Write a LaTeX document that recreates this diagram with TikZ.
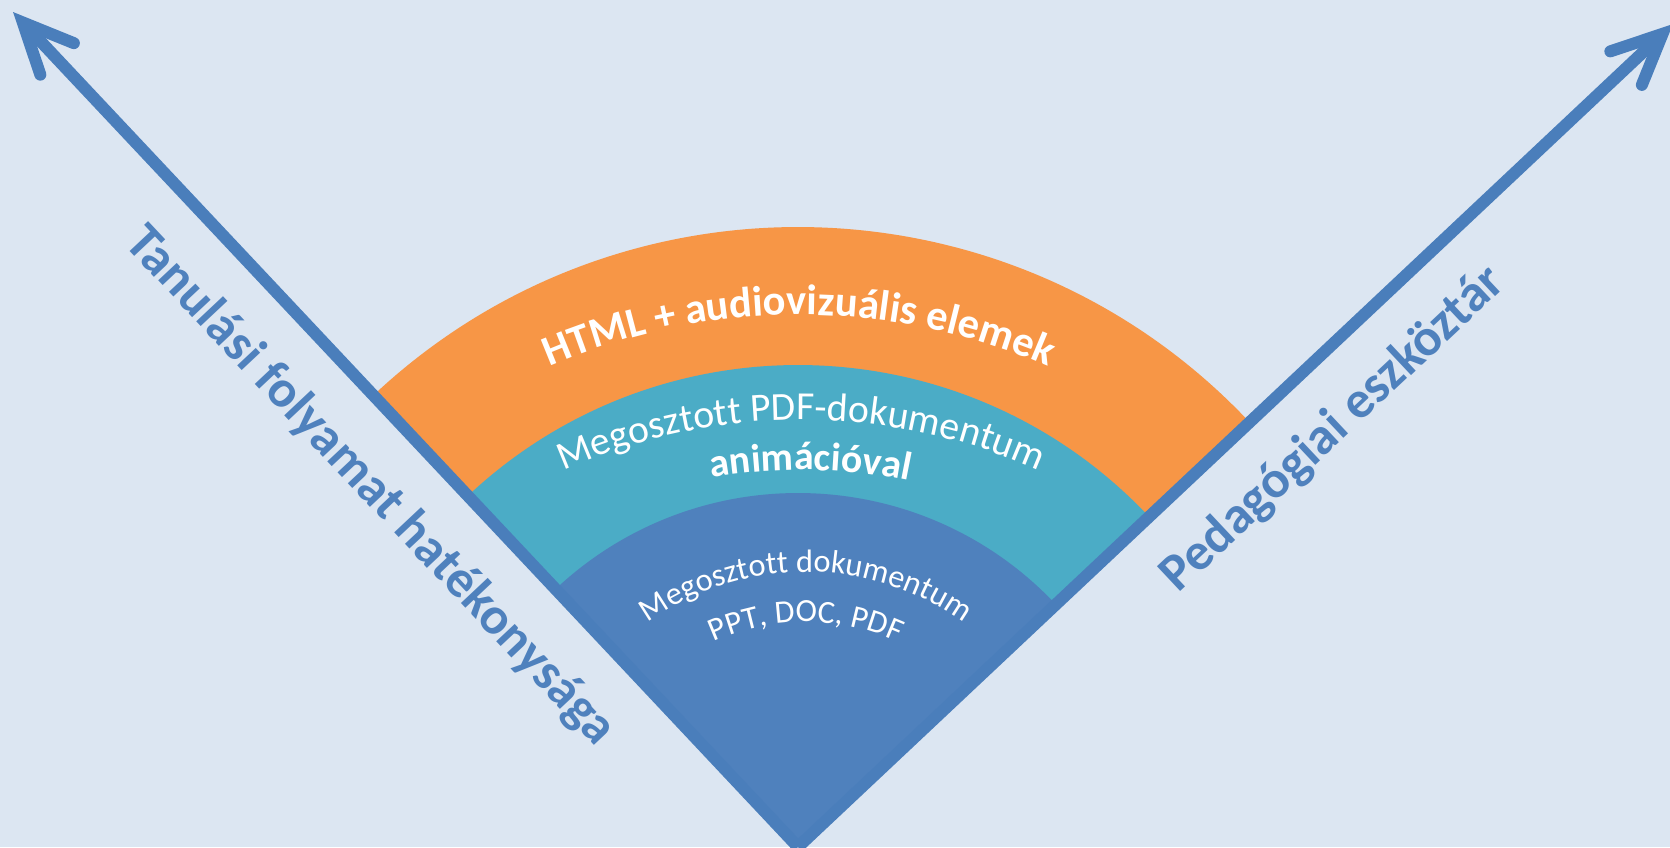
\documentclass[tikz,border=0pt]{standalone}
\usepackage{fontspec}
\setmainfont{Carlito}
\usetikzlibrary{
	arrows.meta,
	calc,
	decorations.text
}

\definecolor{hatter}{HTML}{DCE6F2}
\definecolor{tengelykek}{HTML}{4A7EBB}
\definecolor{narancs}{HTML}{F79646}
\definecolor{turkiz}{HTML}{4BACC6}
\definecolor{kek}{HTML}{4F81BD}

\newcommand{\narancsbetu}{\fontsize{12.1}{14}\selectfont\bfseries\color{white}}
\newcommand{\turkizbetu}{\fontsize{11.3}{13}\selectfont\color{white}}
\newcommand{\turkizvastag}{\fontsize{11.3}{13}\selectfont\bfseries\color{white}}
\newcommand{\kekbetu}{\fontsize{9.2}{11}\selectfont\color{white}}

\begin{document}
\begin{tikzpicture}[
  x=0.01cm, y=0.01cm,
  tengely/.style={draw=tengelykek, line width=0.12cm,
    -{Straight Barb[length=0.5cm, width=0.46cm, line cap=round, line join=miter]}},
  felirat/.style={font=\fontsize{14.9}{17}\selectfont\bfseries, text=kek, inner sep=0pt},
  ivszoveg/.style={decorate, decoration={text along path, text align=center, text={#1}}}
]
\fill[hatter] (0,0) rectangle (1670,847);
\useasboundingbox (0,0) rectangle (1670,847);

\coordinate (csucs) at (798,0);
\coordinate (balveg) at (13,835);
\coordinate (jobbveg) at (1673,823);

% savok
\fill[narancs] (csucs) -- ++(43.2:620) arc[start angle=43.2, end angle=133.2, radius=620] -- cycle;
\fill[turkiz] (csucs) -- ++(43.2:482) arc[start angle=43.2, end angle=133.2, radius=482] -- cycle;
\fill[kek] (csucs) -- ++(43.2:354) arc[start angle=43.2, end angle=133.2, radius=354] -- cycle;

% ives szovegek
\coordinate (narancskp) at (799,-95);
\coordinate (turkizkp) at (801,-158);
\coordinate (kekkp) at (806,3);
\path[ivszoveg={|\narancsbetu|HTML + audiovizuális elemek}]
  (narancskp) ++(150:627) arc[start angle=150, end angle=30, radius=627];
\path[ivszoveg={|\turkizbetu|Megosztott PDF-dokumentum}]
  (turkizkp) ++(150:585) arc[start angle=150, end angle=30, radius=585];
\path[ivszoveg={|\turkizvastag|animációval}]
  (turkizkp) ++(149:535) arc[start angle=149, end angle=29, radius=535];
\path[ivszoveg={|\kekbetu|Megosztott dokumentum}]
  (kekkp) ++(170:272) arc[start angle=170, end angle=10, radius=272];
\path[ivszoveg={|\kekbetu|PPT, DOC, PDF}]
  (kekkp) ++(170:222) arc[start angle=170, end angle=10, radius=222];

% tengelyek
\draw[tengely] (csucs) -- (balveg);
\draw[tengely] (csucs) -- (jobbveg);

\node[felirat, rotate=-46.8] (tanulas) at ($(csucs)+(133.2:556)+(223.2:65)$) {Tanulási folyamat hatékonysága};
\node[felirat, rotate=43.2] (eszkoztar) at ($(csucs)+(43.2:676)+(-46.8:62)$) {Pedagógiai eszköztár};
\end{tikzpicture}
\end{document}
